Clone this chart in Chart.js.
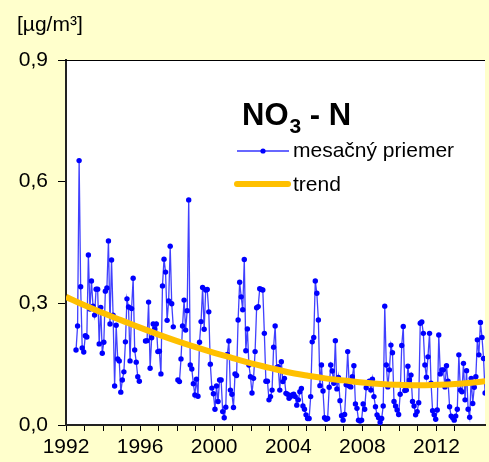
<!DOCTYPE html>
<html>
<head>
<meta charset="utf-8">
<style>
  html, body { margin: 0; padding: 0; background: #ffffcc; }
</style>
</head>
<body>
<canvas id="chart" width="489" height="462"></canvas>
<script src="https://cdn.jsdelivr.net/npm/chart.js@4.4.1/dist/chart.umd.min.js"></script>
<script>
  // monthly means NO3-N [µg/m3], first value = July 1992, null = no measurement
  const firstYear = 1992, firstMonth = 7;
  const monthly = [
    0.185, 0.244, 0.652, 0.341, 0.190, 0.180,                                      // 1992 (Jul-Dec)
    0.220, 0.217, 0.419, 0.286, 0.355, 0.293, 0.271, 0.335, 0.335, 0.200, 0.290, 0.177, // 1993
    0.204, 0.330, 0.338, 0.454, 0.249, 0.407, 0.271, 0.096, 0.246, 0.163, 0.158, 0.081, // 1994
    0.111, 0.131, 0.205, 0.311, 0.291, 0.158, 0.287, 0.362, 0.185, 0.155, 0.119, 0.108, // 1995
    null, null, null, 0.207, 0.208, 0.303, 0.140, 0.215, 0.249, 0.237, 0.249, 0.181,    // 1996
    0.182, 0.126, 0.343, 0.409, 0.377, 0.258, 0.306, 0.441, 0.299, 0.242, null, null,  // 1997
    0.111, 0.107, 0.163, 0.244, 0.308, 0.234, 0.282, 0.555, 0.148, 0.138, 0.102, 0.074, // 1998
    0.113, 0.071, 0.204, 0.255, 0.339, 0.236, 0.333, 0.334, 0.279, 0.150, 0.091, 0.077, // 1999
    0.039, 0.096, 0.058, 0.111, 0.111, 0.033, 0.018, 0.044, 0.174, 0.207, 0.086, 0.076, // 2000
    0.043, 0.126, 0.122, 0.259, 0.352, 0.316, 0.284, 0.408, 0.183, 0.237, 0.148, 0.119, // 2001
    0.079, 0.115, 0.181, 0.289, 0.292, 0.336, 0.334, 0.333, 0.226, 0.108, 0.108, 0.062, // 2002
    0.070, 0.086, 0.192, 0.244, 0.141, 0.144, 0.086, 0.156, 0.107, 0.115, 0.078, 0.076, // 2003
    0.066, 0.070, 0.074, 0.076, 0.070, 0.049, 0.062, 0.082, 0.090, 0.047, 0.039, 0.025, // 2004
    0.016, 0.016, 0.070, 0.205, 0.216, 0.355, 0.325, 0.259, 0.097, 0.148, 0.084, 0.018, // 2005
    0.014, 0.016, 0.093, 0.148, 0.133, 0.103, 0.208, 0.089, 0.117, 0.060, 0.023, 0.012, // 2006
    0.026, 0.099, 0.181, 0.096, 0.094, 0.119, 0.146, 0.052, 0.041, 0.012, 0.010, 0.012, // 2007
    0.052, 0.039, 0.092, 0.104, 0.108, 0.086, 0.113, 0.070, 0.045, 0.025, 0.018, 0.006, // 2008
    0.016, 0.047, 0.293, 0.148, 0.094, 0.136, 0.197, 0.178, 0.058, 0.047, 0.037, 0.026, // 2009
    0.076, 0.196, 0.243, 0.085, 0.086, 0.145, 0.111, 0.123, 0.058, 0.047, 0.025, 0.033, // 2010
    0.055, 0.251, 0.254, 0.226, 0.148, 0.118, 0.168, 0.226, 0.103, 0.035, 0.025, 0.014, // 2011
    0.037, 0.222, 0.126, 0.136, 0.136, 0.094, 0.146, 0.108, 0.045, 0.022, 0.018, 0.012, // 2012
    0.022, 0.039, 0.173, 0.086, 0.082, 0.152, 0.062, 0.134, 0.039, 0.019, 0.115, 0.053, // 2013
    0.093, 0.119, 0.210, 0.173, 0.253, 0.216, 0.164, 0.079                             // 2014
  ];

  // trend curve read at the start of each year
  const trendYears = [1992, 1993, 1994, 1995, 1996, 1997, 1998, 1999, 2000, 2001, 2002, 2003,
                      2004, 2005, 2006, 2007, 2008, 2009, 2010, 2011, 2012, 2013, 2014, 2015];
  const trendValues = [0.316, 0.295, 0.276, 0.258, 0.240, 0.223, 0.207, 0.192, 0.178, 0.165, 0.152, 0.141,
                       0.130, 0.122, 0.115, 0.110, 0.105, 0.101, 0.099, 0.098, 0.099, 0.101, 0.105, 0.110];

  const yTicks = [0, 0.3, 0.6, 0.9];
  const xLabelYears = [1992, 1996, 2000, 2004, 2008, 2012];

  const FONT = '"Liberation Sans", Arial, sans-serif';

  const monthlyPoints = monthly.map((v, i) => {
    const m = firstMonth - 1 + i;
    return { x: firstYear + Math.floor(m / 12) + ((m % 12) + 0.5) / 12, y: v };
  });
  const trendPoints = trendYears.map((yr, i) => ({ x: yr, y: trendValues[i] }));

  const framePlugin = {
    id: 'frame',
    beforeDraw(chart) {
      const { ctx, chartArea: a } = chart;
      ctx.save();
      ctx.fillStyle = '#ffffcc';
      ctx.fillRect(0, 0, chart.width, chart.height);
      ctx.fillStyle = '#ffffff';
      ctx.fillRect(a.left, a.top, a.right - a.left, a.bottom - a.top);
      ctx.restore();
    },
    afterDraw(chart) {
      const { ctx, chartArea: a } = chart;
      ctx.save();
      // top border of plot area
      ctx.strokeStyle = '#000';
      ctx.lineWidth = 1;
      ctx.beginPath();
      ctx.moveTo(a.left - 6, a.top + 0.5);
      ctx.lineTo(a.right, a.top + 0.5);
      ctx.stroke();

      // unit
      ctx.fillStyle = '#000';
      ctx.font = '21px ' + FONT;
      ctx.textBaseline = 'alphabetic';
      ctx.textAlign = 'left';
      ctx.fillText('[µg/m³]', 17, 31);

      // title NO3 - N
      ctx.font = 'bold 31px ' + FONT;
      ctx.fillText('NO', 242, 125);
      let x = 242 + ctx.measureText('NO').width;
      ctx.font = 'bold 21px ' + FONT;
      ctx.fillText('3', x + 1, 133);
      x += ctx.measureText('3').width + 1;
      ctx.font = 'bold 31px ' + FONT;
      ctx.fillText(' - N', x, 125);

      // legend
      ctx.strokeStyle = 'rgba(30,30,255,0.9)';
      ctx.lineWidth = 1.3;
      ctx.beginPath();
      ctx.moveTo(237, 151);
      ctx.lineTo(289, 151);
      ctx.stroke();
      ctx.fillStyle = '#0000ff';
      ctx.beginPath();
      ctx.arc(263, 151, 2.6, 0, Math.PI * 2);
      ctx.fill();

      ctx.strokeStyle = '#ffc000';
      ctx.lineWidth = 6;
      ctx.lineCap = 'round';
      ctx.beginPath();
      ctx.moveTo(237, 184);
      ctx.lineTo(288, 184);
      ctx.stroke();

      ctx.fillStyle = '#000';
      ctx.font = '21px ' + FONT;
      ctx.fillText('mesačný priemer', 293, 157);
      ctx.fillText('trend', 293, 191);
      ctx.restore();
    }
  };

  new Chart(document.getElementById('chart'), {
    type: 'line',
    data: {
      datasets: [
        {
          label: 'trend',
          data: trendPoints,
          borderColor: '#ffc000',
          borderWidth: 6,
          pointRadius: 0,
          tension: 0.4,
          order: 0
        },
        {
          label: 'mesačný priemer',
          data: monthlyPoints,
          borderColor: 'rgba(30,30,255,0.85)',
          borderWidth: 1.3,
          pointRadius: 2.7,
          pointBackgroundColor: '#0000ff',
          pointBorderWidth: 0,
          spanGaps: false,
          tension: 0,
          order: 1
        }
      ]
    },
    options: {
      responsive: false,
      animation: false,
      devicePixelRatio: 1,
      layout: { padding: { left: 0, top: 60, right: 0, bottom: 0 } },
      plugins: { legend: { display: false }, tooltip: { enabled: false } },
      scales: {
        x: {
          type: 'linear',
          min: 1992,
          max: 1992 + 423 / 18.7,
          afterFit(scale) { scale.height = 37; },
          afterBuildTicks(scale) {
            scale.ticks = scale.ticks.filter(t => Math.abs(t.value - Math.round(t.value)) < 1e-6);
          },
          ticks: {
            stepSize: 1,
            autoSkip: false,
            maxRotation: 0,
            padding: 4,
            color: '#000',
            font: { family: FONT, size: 21 },
            callback: v => xLabelYears.includes(Math.round(v)) ? String(Math.round(v)) : ''
          },
          grid: { drawOnChartArea: false, tickLength: 6, color: '#000' },
          border: { display: true, color: '#222', width: 2 }
        },
        y: {
          min: 0,
          max: 0.9,
          afterFit(scale) { scale.width = 66; },
          afterBuildTicks(scale) {
            scale.ticks = yTicks.map(v => ({ value: v }));
          },
          ticks: {
            padding: 10,
            color: '#000',
            font: { family: FONT, size: 21 },
            callback: v => v.toFixed(1).replace('.', ',')
          },
          grid: { drawOnChartArea: false, tickLength: 8, color: '#000' },
          border: { display: true, color: '#222', width: 2 }
        }
      }
    },
    plugins: [framePlugin]
  });
</script>
</body>
</html>
